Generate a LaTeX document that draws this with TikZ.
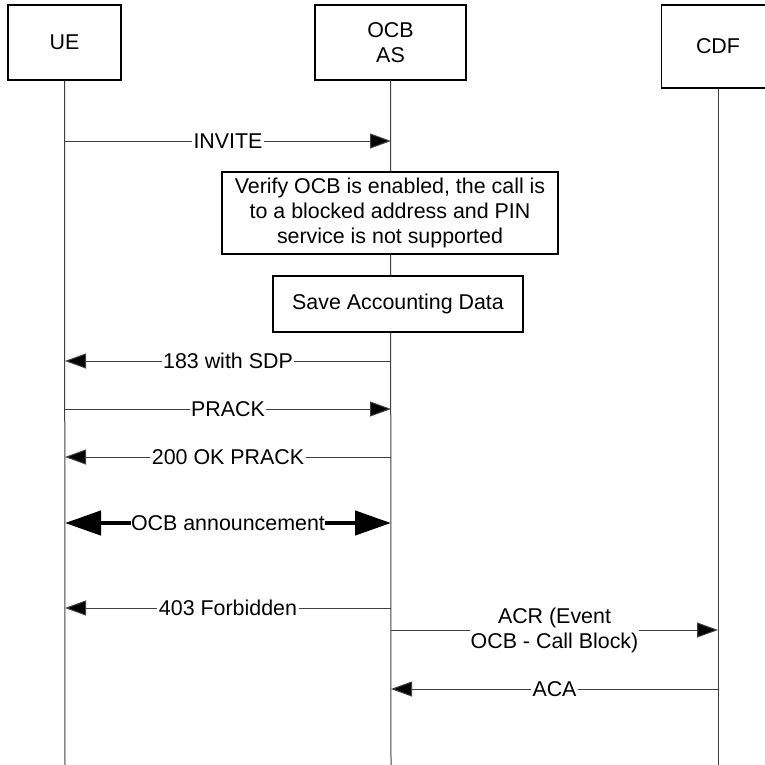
\documentclass[tikz,border=0pt]{standalone}
\usepackage{fontspec}
\setmainfont{Liberation Sans}
\usetikzlibrary{arrows.meta,positioning}

\begin{document}
\begin{tikzpicture}[
  x=1pt,
  y=-1pt,
  every node/.style={font=\fontsize{21.4}{25}\selectfont},
  entity/.style={draw, line width=1.2pt, inner sep=0pt, align=center,
    minimum width=113pt, minimum height=75pt},
  action/.style={draw, fill=white, line width=1.5pt, inner sep=0pt,
    align=center},
  lifeline/.style={black!75, line width=1pt},
  msg/.style={black!75, line width=1pt,
    -{Triangle[length=21pt, width=15pt, fill=black]}},
  bigmsg/.style={black, line width=4.5pt,
    {Triangle[length=36pt, width=24pt]}-{Triangle[length=36pt, width=24pt]}},
  lbl/.style={fill=white, inner sep=1.5pt, text=black}
]
\useasboundingbox (0,0) rectangle (764,765);

% ---------------------------------------------------------------------
% entities and lifelines
% ---------------------------------------------------------------------
\node[entity] (ue) at (64.5,42.5) {UE};
\node[entity, minimum width=151pt] (as) at (390.5,42.5) {OCB\\AS};
\node[entity, minimum height=83pt] (cdf) at (718,46.5) {CDF};

\coordinate (ue-end) at (65,765);
\coordinate (as-end) at (391,765);
\coordinate (cdf-end) at (718,765);
\draw[lifeline] (ue.south) -- (ue-end);
\draw[lifeline] (as.south) -- (as-end);
\draw[lifeline] (cdf.south) -- (cdf-end);

% one point per message on every lifeline
\foreach \m/\y in {invite/141, sdp/361, prack/409, ok/457, ann/523,
                   forbid/608, acr/630, aca/689}
{
  \coordinate (ue-\m) at (65,\y);
  \coordinate (as-\m) at (391,\y);
  \coordinate (cdf-\m) at (718,\y);
}

% ---------------------------------------------------------------------
% messages and actions
% ---------------------------------------------------------------------
\draw[msg] (ue-invite) -- node[lbl] {INVITE} (as-invite);

\node[action, minimum width=336pt, minimum height=82pt] (verify)
  at (390,213) {Verify OCB is enabled, the call is\\
                to a blocked address and PIN\\
                service is not supported};
\node[action, minimum width=250pt, minimum height=56pt] (save)
  at (398,304) {Save Accounting Data};

\draw[msg] (as-sdp) -- node[lbl] {183 with SDP} (ue-sdp);
\draw[msg] (ue-prack) -- node[lbl] {PRACK} (as-prack);
\draw[msg] (as-ok) -- node[lbl] {200 OK PRACK} (ue-ok);
\draw[bigmsg] (ue-ann) -- node[lbl, inner sep=0.5pt] {OCB announcement} (as-ann);
\draw[msg] (as-forbid) -- node[lbl] {403 Forbidden} (ue-forbid);
\draw[msg] (as-acr) -- node[lbl, align=center, inner sep=1pt]
  {ACR (Event\\OCB - Call Block)} (cdf-acr);
\draw[msg] (cdf-aca) -- node[lbl] {ACA} (as-aca);

\end{tikzpicture}
\end{document}
